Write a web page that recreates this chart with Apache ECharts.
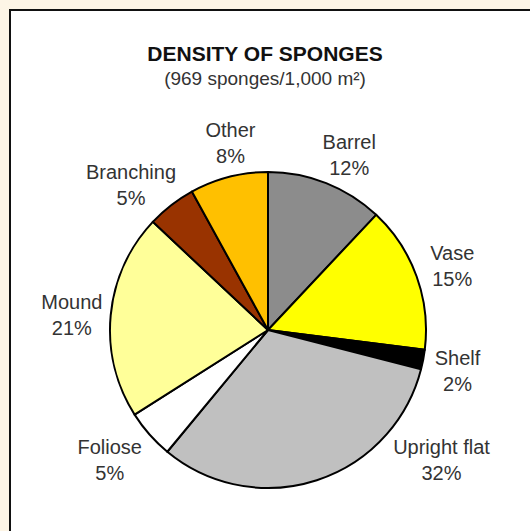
<!DOCTYPE html>
<html>
<head>
<meta charset="utf-8">
<style>
  html, body { margin: 0; padding: 0; background: #fdf5e6; }
  #chart { width: 530px; height: 531px; }
</style>
<script src="https://cdn.jsdelivr.net/npm/echarts@6/dist/echarts.min.js"></script>
</head>
<body>
<div id="chart"></div>
<script>
// ---- data ----
const categories = ['Barrel', 'Vase', 'Shelf', 'Upright flat', 'Foliose', 'Mound', 'Branching', 'Other'];
const shares = [12, 15, 2, 32, 5, 21, 5, 8];   // percent of sponges
const sliceColors = ['#8c8c8c', '#ffff00', '#000000', '#c0c0c0', '#ffffff', '#ffff99', '#993300', '#ffc000'];
const titleText = 'DENSITY OF SPONGES';
const subtitleText = '(969 sponges/1,000 m²)';

// ---- small label nudges (style only) ----
const labelNudge = {
  'Barrel': [8, 10],
  'Vase': [-3, 3],
  'Shelf': [-6, 4],
  'Other': [12, 6],
  'Branching': [-15, 12],
  'Mound': [2, 4],
  'Foliose': [-9, -2],
  'Upright flat': [112, -59]
};

const chart = echarts.init(document.getElementById('chart'), null, { renderer: 'svg' });

const pieData = categories.map((c, i) => ({ name: c, value: shares[i], itemStyle: { color: sliceColors[i] } }));
const labelData = categories.map((c, i) => ({ name: c, value: shares[i] }));

const center = [268, 330];
const R = 158;

chart.setOption({
  backgroundColor: '#fdf5e6',
  animation: false,
  graphic: [{
    type: 'rect',
    z: -10,
    shape: { x: 10, y: 10, width: 540, height: 540 },
    style: { fill: '#ffffff', stroke: '#111111', lineWidth: 2 }
  }],
  title: {
    text: titleText,
    subtext: subtitleText,
    left: 'center',
    top: 43,
    padding: 0,
    itemGap: 5,
    textStyle: { fontFamily: 'Liberation Sans', fontSize: 21, fontWeight: 'bold', color: '#111111' },
    subtextStyle: { fontFamily: 'Liberation Sans', fontSize: 19, color: '#333333' }
  },
  series: [
    {
      type: 'pie',
      center: center,
      radius: R,
      startAngle: 90,
      clockwise: true,
      silent: true,
      label: { show: false },
      labelLine: { show: false },
      itemStyle: { borderColor: '#000000', borderWidth: 2 },
      emphasis: { disabled: true },
      data: pieData
    },
    {
      type: 'pie',
      center: center,
      radius: [R, R + 76],
      startAngle: 90,
      clockwise: true,
      silent: true,
      itemStyle: { color: 'rgba(0,0,0,0)', borderWidth: 0 },
      emphasis: { disabled: true },
      label: {
        show: true,
        position: 'inside',
        formatter: '{b}\n{c}%',
        fontFamily: 'Liberation Sans',
        fontSize: 20,
        lineHeight: 26,
        color: '#333333',
        align: 'center'
      },
      labelLine: { show: false },
      labelLayout: function (p) {
        const n = labelNudge[labelData[p.dataIndex].name];
        return n ? { dx: n[0], dy: n[1] } : {};
      },
      data: labelData
    }
  ]
});
</script>
</body>
</html>
